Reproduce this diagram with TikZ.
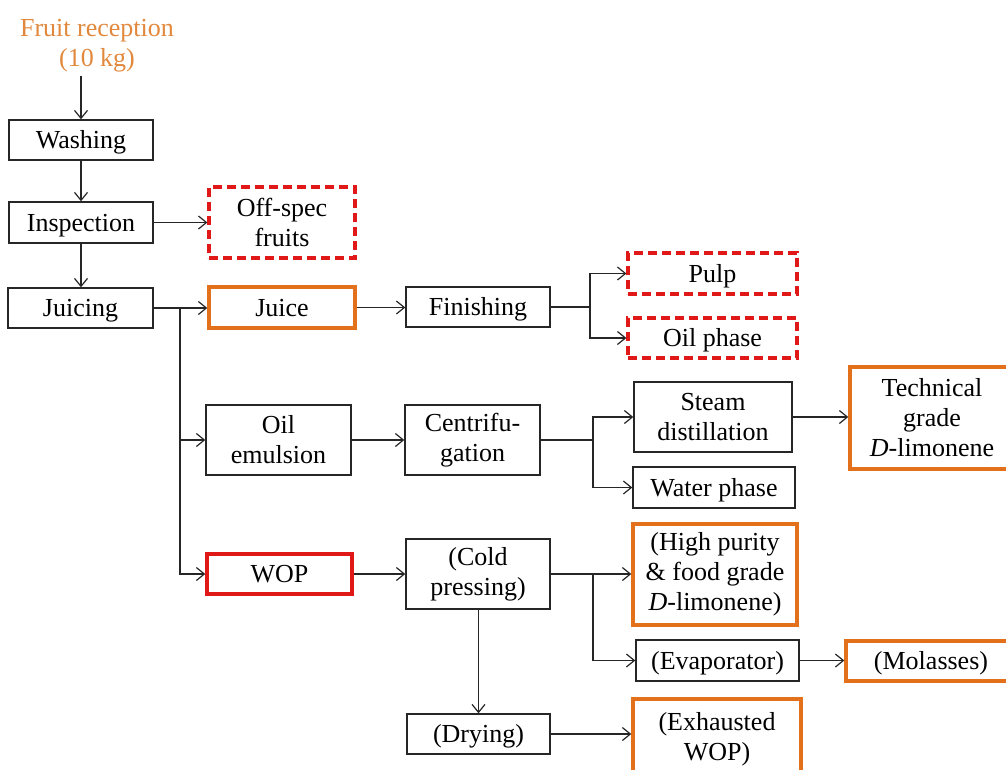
\documentclass[tikz,border=0pt]{standalone}
\usepackage{fontspec}
\setmainfont{Liberation Serif}
\usetikzlibrary{arrows.meta}
\definecolor{recorange}{HTML}{E2883C}
\definecolor{boxorange}{HTML}{E3701A}
\definecolor{boxred}{HTML}{E01818}
\begin{document}
\begin{tikzpicture}[x=1pt,y=-1pt,
  every node/.style={font=\fontsize{26}{30}\selectfont, align=center, inner sep=0pt},
  one/.style={text height=18pt, text depth=1pt},
  proc/.style={draw=black!85, line width=1.4pt},
  prod/.style={draw=boxorange, line width=3.4pt},
  waste/.style={draw=boxred, line width=3.2pt, dash pattern=on 9pt off 5pt},
  feed/.style={draw=boxred, line width=3.4pt},
  flow/.style={draw=black!85, line width=1.2pt, -{Straight Barb[length=8pt,width=13pt,line width=1.2pt]}},
  line/.style={draw=black!85, line width=1.2pt}]
\useasboundingbox (0,0) rectangle (1006,769);

% main line
\node[text=recorange] (fruit) at (97,46) {Fruit reception\\(10 kg)};
\node[proc, one, minimum width=144, minimum height=40] (wash) at (81,140) {Washing};
\node[proc, one, minimum width=144, minimum height=41] (insp) at (81,222.5) {Inspection};
\node[waste, minimum width=146, minimum height=71] (offspec) at (282,222.5) {Off-spec\\fruits};
\node[proc, one, minimum width=145, minimum height=40] (juicing) at (80.5,308) {Juicing};

% juice branch
\node[prod, one, minimum width=146, minimum height=41] (juice) at (282,307.5) {Juice};
\node[proc, one, minimum width=144, minimum height=40] (finish) at (478,307) {Finishing};
\node[waste, one, minimum width=169, minimum height=41] (pulp) at (712.5,273.5) {Pulp};
\node[waste, one, minimum width=169, minimum height=40] (oilph) at (712.5,338) {Oil phase};

% oil emulsion branch
\node[proc, minimum width=145, minimum height=70] (oilem) at (278.5,440) {Oil\\emulsion};
\node[proc, minimum width=135, minimum height=70] (centri) at (472.5,440) {Centrifu-\\gation};
\node[proc, minimum width=158, minimum height=70] (steam) at (713,417) {Steam\\distillation};
\node[proc, one, minimum width=162, minimum height=41] (water) at (714,487.5) {Water phase};
\node[prod, minimum width=164, minimum height=102] (tech) at (932,418) {Technical\\grade\\\textit{D}-limonene};

% WOP branch
\node[feed, one, minimum width=145, minimum height=40] (wop) at (279.5,574) {WOP};
\node[proc, minimum width=144, minimum height=70] (cold) at (478,574) {(Cold\\pressing)};
\node[prod, minimum width=164, minimum height=101] (high) at (715,574.5) {(High purity\\\& food grade\\\textit{D}-limonene)};
\node[proc, one, minimum width=163, minimum height=41] (evap) at (717.5,660.5) {(Evaporator)};
\node[prod, one, minimum width=170, minimum height=40] (molas) at (931,661) {(Molasses)};
\node[proc, one, minimum width=143, minimum height=40] (drying) at (478.5,734) {(Drying)};
\node[prod, minimum width=168, minimum height=80] (exh) at (717,739) {(Exhausted\\WOP)};

% junction points
\coordinate (jA) at (180,308);
\coordinate (jB) at (590,307);
\coordinate (jC) at (593,440);
\coordinate (jD) at (593,574);

% connectors
\draw[flow] (wash.north |- fruit.south) ++(0,3) -- (wash.north);
\draw[flow] (wash.south) -- (insp.north);
\draw[flow] (insp.east) -- (insp.east -| offspec.west);
\draw[flow] (insp.south) -- (insp.south |- juicing.north);
\draw[flow] (juicing.east) -- (juicing.east -| juice.west);
\draw[flow] (jA) |- (oilem.west);
\draw[flow] (jA) |- (wop.west);
\draw[flow] (juice.east) -- (juice.east -| finish.west);
\draw[line] (finish.east) -- (jB);
\draw[flow] (jB) |- (pulp.west);
\draw[flow] (jB) |- (oilph.west);
\draw[flow] (oilem.east) -- (centri.west);
\draw[line] (centri.east) -- (jC);
\draw[flow] (jC) |- (steam.west);
\draw[flow] (jC) |- (water.west);
\draw[flow] (steam.east) -- (steam.east -| tech.west);
\draw[flow] (wop.east) -- (cold.west);
\draw[flow] (cold.east) -- (cold.east -| high.west);
\draw[flow] (jD) |- (evap.west);
\draw[flow] (evap.east) -- (evap.east -| molas.west);
\draw[flow] (cold.south -| drying.north) -- (drying.north);
\draw[flow] (drying.east) -- (drying.east -| exh.west);
\end{tikzpicture}
\end{document}
